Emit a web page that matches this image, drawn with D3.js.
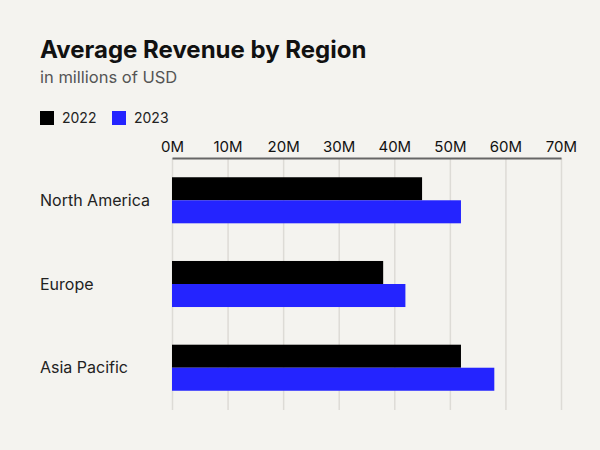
<!DOCTYPE html>
<html>
<head>
<meta charset="utf-8">
<script src="https://cdn.jsdelivr.net/npm/d3@7"></script>
<style>
  body { margin: 0; background: #f4f3ef; }
  svg { display: block; font-family: Inter, "Noto Sans", sans-serif; }
</style>
</head>
<body>
<div class="chart"></div>
<script>
const WIDTH = 600
const HEIGHT = 450

// data
const regions = ["North America", "Europe", "Asia Pacific"];
const years = ["2022", "2023"];
const values2022 = [45, 38, 52];
const values2023 = [52, 42, 58];
const tickValues = [0, 10, 20, 30, 40, 50, 60, 70];
const colors = ["#000000", "#2424ff"];

const rows = regions.map((r, i) => ({ region: r, vals: [values2022[i], values2023[i]] }));

const svg = d3.select("div.chart")
            .append("svg")
            .attr("width", WIDTH)
            .attr("height", HEIGHT);

svg.append("rect")
   .attr("width", WIDTH)
   .attr("height", HEIGHT)
   .attr("fill", "#f4f3ef");

// titres
svg.append("text")
   .attr("x", 40)
   .attr("y", 58)
   .attr("font-size", 24)
   .attr("font-weight", 700)
   .attr("fill", "#111")
   .text("Average Revenue by Region");

svg.append("text")
   .attr("x", 40)
   .attr("y", 83)
   .attr("font-size", 16.5)
   .attr("fill", "#555")
   .text("in millions of USD");

// légende
const legend = svg.selectAll("g.legend")
   .data(years)
   .enter()
   .append("g")
   .attr("class", "legend")
   .attr("transform", (d, i) => `translate(${40 + i * 72},111)`);

legend.append("rect")
   .attr("width", 14)
   .attr("height", 14)
   .attr("fill", (d, i) => colors[i]);

legend.append("text")
   .attr("x", 22)
   .attr("y", 12)
   .attr("font-size", 14)
   .attr("fill", "#222")
   .text(d => d);

// échelles
const x = d3.scaleLinear().domain([0, 70]).range([172, 561]);
const y = d3.scaleBand().domain(regions).range([158, 410]).paddingInner(0.45).paddingOuter(0.23);
const ySub = d3.scaleBand().domain(years).range([0, y.bandwidth()]);

// grille
svg.selectAll("line.grid")
   .data(tickValues)
   .enter()
   .append("line")
   .attr("class", "grid")
   .attr("x1", d => x(d) + 0.5)
   .attr("x2", d => x(d) + 0.5)
   .attr("y1", 158)
   .attr("y2", 410)
   .attr("stroke", "#dddbd6")
   .attr("stroke-width", 1.5);

// axe du haut
const axis = svg.append("g")
   .attr("transform", "translate(0,158)")
   .call(d3.axisTop(x).tickValues(tickValues).tickFormat(d => d + "M").tickSize(0).tickPadding(6));

axis.select(".domain").attr("stroke", "#666").attr("stroke-width", 2);
axis.selectAll("text")
   .attr("font-family", "Inter, 'Noto Sans', sans-serif")
   .attr("font-size", 15)
   .attr("fill", "#111");

// barres
const groups = svg.selectAll("g.region")
   .data(rows)
   .enter()
   .append("g")
   .attr("class", "region")
   .attr("transform", d => `translate(0,${y(d.region)})`);

groups.selectAll("rect")
   .data(d => d.vals.map((v, i) => ({ year: years[i], v: v, i: i })))
   .enter()
   .append("rect")
   .attr("x", x(0))
   .attr("y", d => ySub(d.year))
   .attr("width", d => x(d.v) - x(0))
   .attr("height", ySub.bandwidth())
   .attr("fill", d => colors[d.i]);

// étiquettes des régions
svg.selectAll("text.label")
   .data(regions)
   .enter()
   .append("text")
   .attr("class", "label")
   .attr("x", 40)
   .attr("y", d => y(d) + y.bandwidth() / 2)
   .attr("dy", "0.35em")
   .attr("font-size", 16)
   .attr("fill", "#222")
   .text(d => d);
</script>
</body>
</html>
